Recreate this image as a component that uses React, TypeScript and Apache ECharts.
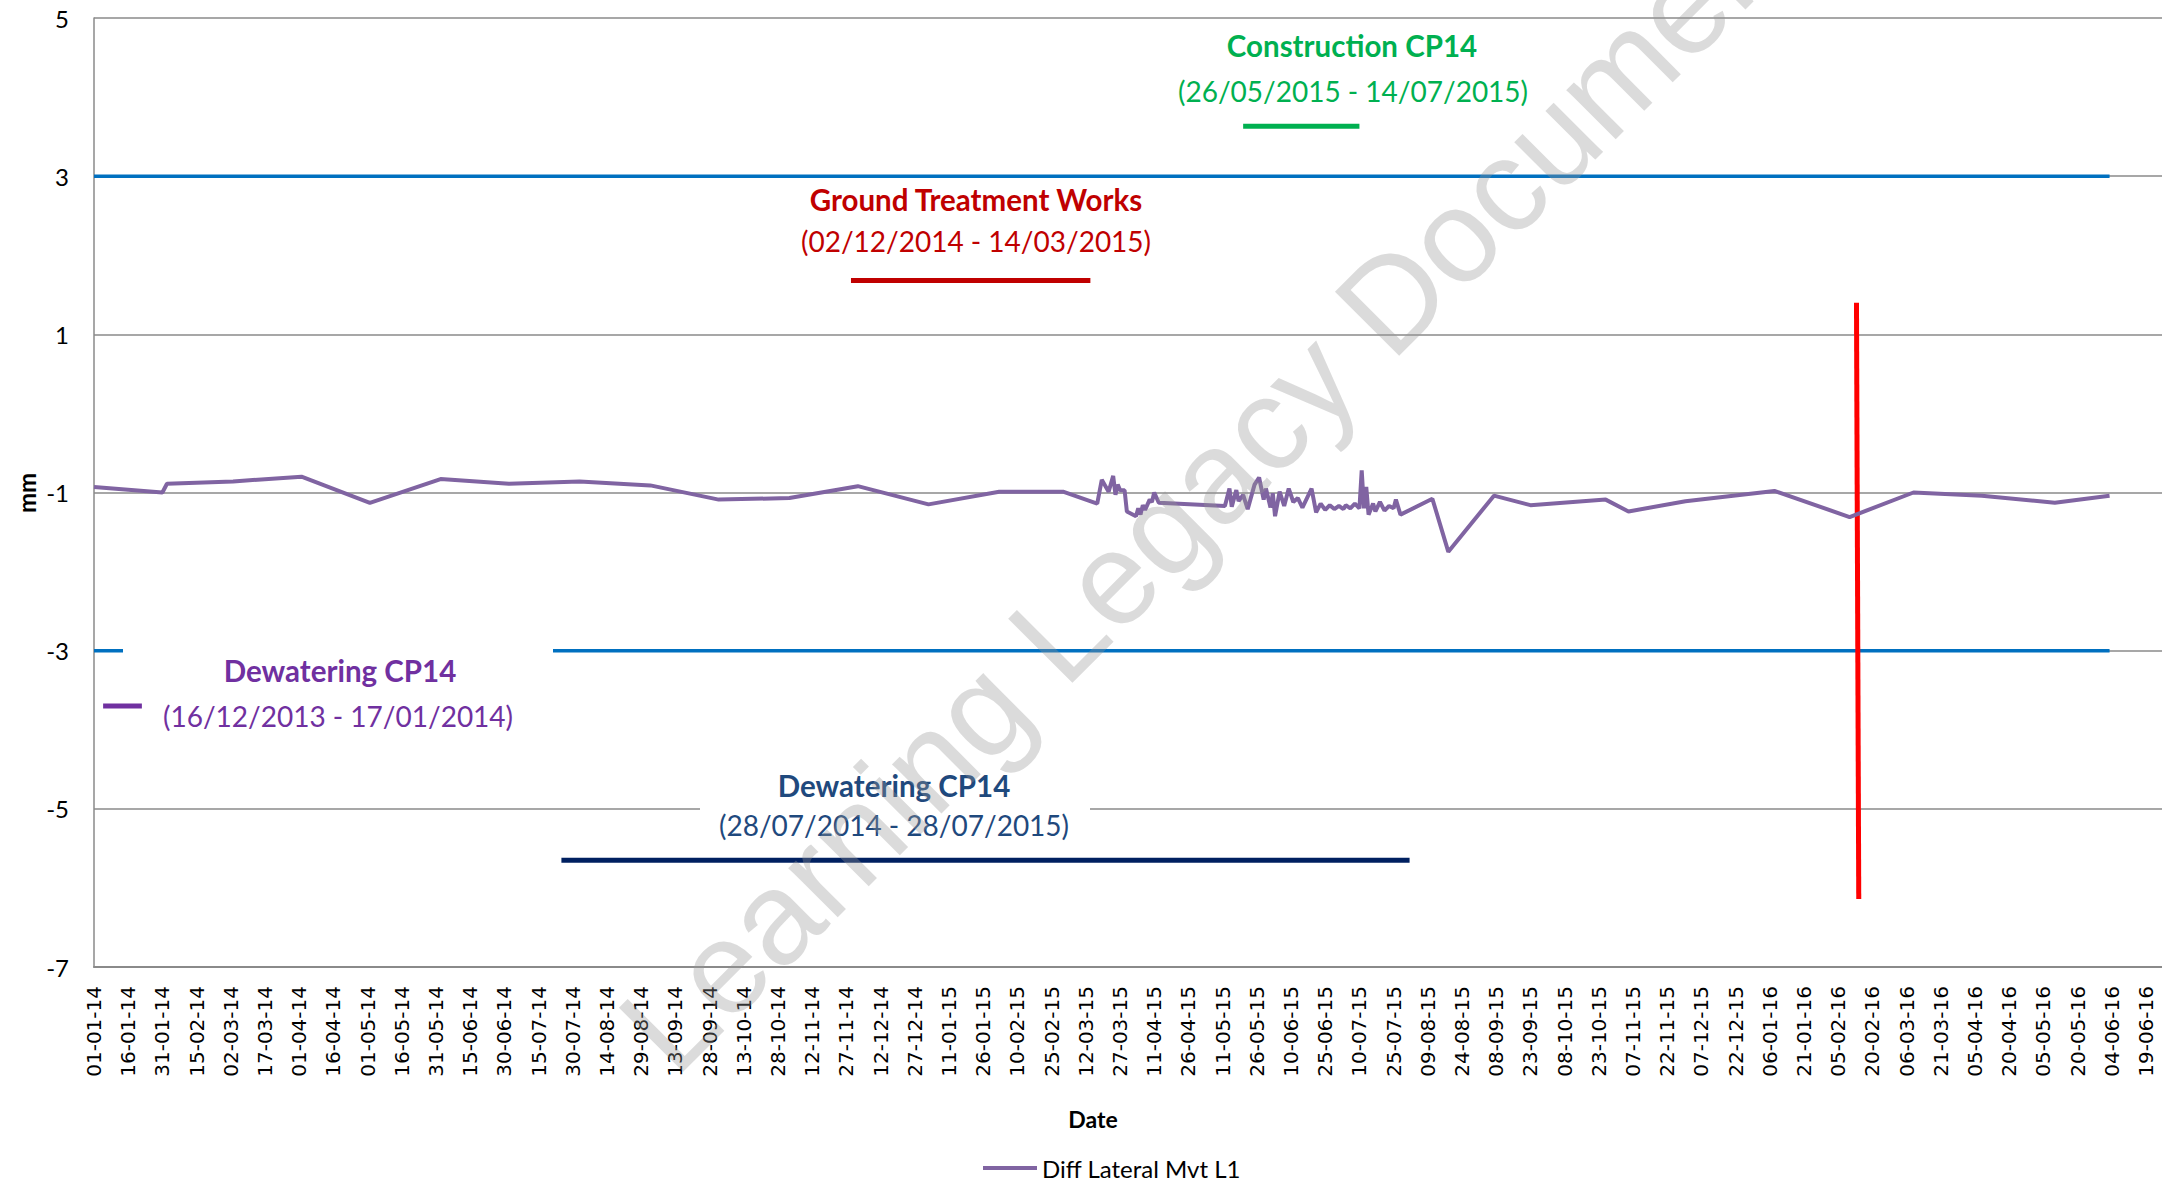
import React, { useEffect, useRef } from 'react';
import * as echarts from 'echarts';

// ---------- data ----------
const seriesName = 'Diff Lateral Mvt L1';

const obsDates = [
  '2014-01-01', '2014-01-31', '2014-02-02', '2014-03-03', '2014-04-02', '2014-05-02', '2014-06-02',
  '2014-07-02', '2014-08-02', '2014-09-02', '2014-10-02', '2014-11-02', '2014-12-02', '2015-01-02',
  '2015-02-02', '2015-03-02', '2015-03-17', '2015-03-19', '2015-03-22', '2015-03-24', '2015-03-25',
  '2015-03-26', '2015-03-27', '2015-03-29', '2015-03-30', '2015-04-03', '2015-04-04', '2015-04-05',
  '2015-04-06', '2015-04-07', '2015-04-09', '2015-04-10', '2015-04-11', '2015-04-13', '2015-05-12',
  '2015-05-14', '2015-05-15', '2015-05-17', '2015-05-18', '2015-05-20', '2015-05-22', '2015-05-25',
  '2015-05-27', '2015-05-29', '2015-05-30', '2015-06-01', '2015-06-02', '2015-06-03', '2015-06-05',
  '2015-06-07', '2015-06-09', '2015-06-11', '2015-06-13', '2015-06-15', '2015-06-17', '2015-06-19',
  '2015-06-21', '2015-06-23', '2015-06-25', '2015-06-27', '2015-06-29', '2015-07-01', '2015-07-03',
  '2015-07-04', '2015-07-06', '2015-07-08', '2015-07-10', '2015-07-11', '2015-07-12', '2015-07-13',
  '2015-07-14', '2015-07-16', '2015-07-17', '2015-07-19', '2015-07-21', '2015-07-23', '2015-07-25',
  '2015-07-26', '2015-07-28', '2015-08-11', '2015-08-18', '2015-09-07', '2015-09-23', '2015-10-26',
  '2015-11-05', '2015-11-30', '2016-01-08', '2016-02-10', '2016-03-09', '2016-04-08', '2016-05-10',
  '2016-06-03',
];
const obsValues = [
  -0.93, -1.0, -0.89, -0.86, -0.8, -1.13, -0.83,
  -0.89, -0.86, -0.91, -1.09, -1.07, -0.92, -1.15,
  -0.99, -0.99, -1.14, -0.84, -0.99, -0.79, -1.03,
  -0.9, -0.97, -0.97, -1.24, -1.3, -1.2, -1.28,
  -1.16, -1.22, -1.09, -1.12, -1.0, -1.13, -1.17,
  -0.95, -1.18, -0.97, -1.11, -1.03, -1.21, -0.9,
  -0.81, -1.09, -0.95, -1.19, -1.01, -1.3, -0.99,
  -1.17, -0.95, -1.12, -1.07, -1.19, -1.07, -0.95,
  -1.25, -1.14, -1.22, -1.16, -1.21, -1.17, -1.21,
  -1.16, -1.2, -1.14, -1.2, -0.72, -1.2, -0.93,
  -1.28, -1.14, -1.24, -1.12, -1.23, -1.17, -1.2,
  -1.09, -1.28, -1.08, -1.75, -1.04, -1.16, -1.09,
  -1.24, -1.11, -0.98, -1.31, -1.0, -1.04, -1.13,
  -1.04,
];

const limitDates = ['2014-01-01', '2016-06-03'];
const upperLimit = [3, 3];
const lowerLimit = [-3, -3];

const markerDates = ['2016-02-13', '2016-02-14'];
const markerValues = [1.4, -6.14];

const annotationTitles = ['Construction CP14', 'Ground Treatment Works', 'Dewatering CP14', 'Dewatering CP14'];
const annotationRanges = [
  '(26/05/2015 - 14/07/2015)',
  '(02/12/2014 - 14/03/2015)',
  '(16/12/2013 - 17/01/2014)',
  '(28/07/2014 - 28/07/2015)',
];
const annotationStart = ['2015-05-20', '2014-11-29', '2014-01-05', '2014-07-25'];
const annotationEnd = ['2015-07-10', '2015-03-14', '2014-01-22', '2015-08-01'];
const annotationLevel = [3.63, 1.68, -3.7, -5.65];

const axisStartDate = '2014-01-01';
const tickIntervalDays = 15;
const axisEndDays = 907;
const yTicks = [-7, -5, -3, -1, 1, 3, 5];

// ---------- helpers ----------
const DAY_MS = 86400000;
const parseUTC = (iso: string) => {
  const [y, m, d] = iso.split('-').map(Number);
  return Date.UTC(y, m - 1, d);
};
const START = parseUTC(axisStartDate);
const toDay = (iso: string) => (parseUTC(iso) - START) / DAY_MS;
const pad = (n: number) => (n < 10 ? '0' + n : '' + n);
const fmtDay = (v: number) => {
  const dt = new Date(START + Math.round(v) * DAY_MS);
  return pad(dt.getUTCDate()) + '-' + pad(dt.getUTCMonth() + 1) + '-' + pad(dt.getUTCFullYear() % 100);
};

// ---------- styles ----------
const annotationColors = ['#00B050', '#C00000', '#7030A0', '#002060'];
const annotationTextColors = ['#00B050', '#C00000', '#7030A0', '#1F497D'];
const titlePos = [
  [1352, 45], [976, 199], [340, 670], [894, 785],
];
const rangePos = [
  [1353, 91], [976, 241], [338, 716], [894, 825],
];
const GRID_COLOR = '#8a8a8a';
const FONT = 'Lato';

export default function App() {
  const ref = useRef<HTMLDivElement>(null);

  useEffect(() => {
    if (!ref.current) return;
    const chart = echarts.init(ref.current, null, { renderer: 'svg', width: 2162, height: 1182 });

    const mainData = obsDates.map((d, i) => [toDay(d), obsValues[i]]);
    const upperData = limitDates.map((d, i) => [toDay(d), upperLimit[i]]);
    const lowerData = limitDates.map((d, i) => [toDay(d), lowerLimit[i]]);
    const markerData = markerDates.map((d, i) => [toDay(d), markerValues[i]]);

    const annotationSeries = annotationTitles.map((t, i) => ({
      name: t + ' ' + annotationRanges[i],
      type: 'line',
      data: [
        [toDay(annotationStart[i]), annotationLevel[i]],
        [toDay(annotationEnd[i]), annotationLevel[i]],
      ],
      symbol: 'none',
      silent: true,
      z: 3,
      lineStyle: {
        color: annotationColors[i],
        width: 5,
      },
    }));

    const texts: any[] = [];
    annotationTitles.forEach((t, i) => {
      texts.push({
        type: 'text',
        x: titlePos[i][0],
        y: titlePos[i][1],
        z: 6,
        style: {
          text: t,
          fill: annotationTextColors[i],
          font: `bold 29.5px ${FONT}`,
          textAlign: 'center',
          textVerticalAlign: 'middle',
          align: 'center',
          verticalAlign: 'middle',
        },
      });
      texts.push({
        type: 'text',
        x: rangePos[i][0],
        y: rangePos[i][1],
        z: 6,
        style: {
          text: annotationRanges[i],
          fill: annotationTextColors[i],
          font: `28px ${FONT}`,
          textAlign: 'center',
          textVerticalAlign: 'middle',
          align: 'center',
          verticalAlign: 'middle',
        },
      });
    });

    const option: any = {
      animation: false,
      backgroundColor: '#ffffff',
      grid: {
        left: 94,
        right: 0,
        top: 18,
        bottom: 215,
        containLabel: false,
        outerBoundsMode: 'none',
      },
      legend: {
        data: [seriesName],
        left: 983,
        top: 1154,
        padding: 0,
        icon: 'rect',
        itemWidth: 54,
        itemHeight: 4,
        textStyle: { fontFamily: FONT, fontSize: 24, color: '#000', lineHeight: 28 },
      },
      xAxis: {
        type: 'value',
        min: 0,
        max: axisEndDays,
        interval: tickIntervalDays,
        axisLine: { show: true, onZero: false, lineStyle: { color: GRID_COLOR, width: 2 } },
        axisTick: { show: false },
        splitLine: { show: false },
        axisLabel: {
          rotate: 90,
          margin: 19,
          fontFamily: 'DejaVu Sans',
          fontSize: 20,
          color: '#000',
          showMaxLabel: false,
          formatter: (v: number) => fmtDay(v),
        },
      },
      yAxis: {
        type: 'value',
        min: yTicks[0],
        max: yTicks[yTicks.length - 1],
        interval: 1,
        axisLine: { show: true, onZero: false, lineStyle: { color: GRID_COLOR, width: 1.5 } },
        axisTick: { show: false },
        splitLine: {
          show: true,
          lineStyle: { color: [GRID_COLOR, 'rgba(0,0,0,0)'], width: 1.5 },
        },
        axisLabel: {
          margin: 25,
          fontFamily: FONT,
          fontSize: 24,
          color: '#000',
          formatter: (v: number) => (yTicks.indexOf(v) >= 0 ? String(v) : ''),
        },
      },
      series: [
        {
          name: 'Upper limit',
          type: 'line',
          data: upperData,
          symbol: 'none',
          silent: true,
          z: 1,
          lineStyle: { color: '#0070C0', width: 3.5 },
        },
        {
          name: 'Lower limit',
          type: 'line',
          data: lowerData,
          symbol: 'none',
          silent: true,
          z: 1,
          lineStyle: { color: '#0070C0', width: 3.5 },
        },
        ...annotationSeries,
        {
          name: 'Marker',
          type: 'line',
          data: markerData,
          symbol: 'none',
          silent: true,
          z: 3,
          lineStyle: { color: '#FF0000', width: 5 },
        },
        {
          name: seriesName,
          type: 'line',
          data: mainData,
          symbol: 'none',
          z: 4,
          lineStyle: { color: '#8064A2', width: 4 },
          itemStyle: { color: '#8064A2' },
        },
      ],
      graphic: [
        { type: 'rect', z: 1.5, shape: { x: 123, y: 640, width: 430, height: 95 }, style: { fill: '#ffffff' } },
        { type: 'rect', z: 1.5, shape: { x: 700, y: 768, width: 390, height: 84 }, style: { fill: '#ffffff' } },
        ...texts,
        {
          type: 'text',
          x: 1093,
          y: 1119,
          z: 6,
          style: {
            text: 'Date',
            fill: '#000',
            font: `bold 23px ${FONT}`,
            textAlign: 'center',
            textVerticalAlign: 'middle',
            align: 'center',
            verticalAlign: 'middle',
          },
        },
        {
          type: 'text',
          x: 26,
          y: 493,
          rotation: Math.PI / 2,
          z: 6,
          style: {
            text: 'mm',
            fill: '#000',
            font: `bold 24px ${FONT}`,
            textAlign: 'center',
            textVerticalAlign: 'middle',
            align: 'center',
            verticalAlign: 'middle',
          },
        },
        {
          type: 'text',
          x: 690,
          y: 1094,
          rotation: (45 * Math.PI) / 180,
          z: 100,
          silent: true,
          style: {
            text: 'Learning Legacy Document',
            fill: 'rgba(150,150,150,0.34)',
            font: '132px "Liberation Sans"',
            textAlign: 'left',
            textVerticalAlign: 'bottom',
            align: 'left',
            verticalAlign: 'bottom',
          },
        },
      ],
    };

    chart.setOption(option);
    return () => chart.dispose();
  }, []);

  return (
    <div
      ref={ref}
      style={{ position: 'fixed', left: 0, top: 0, width: 2162, height: 1182, background: '#fff' }}
    />
  );
}
